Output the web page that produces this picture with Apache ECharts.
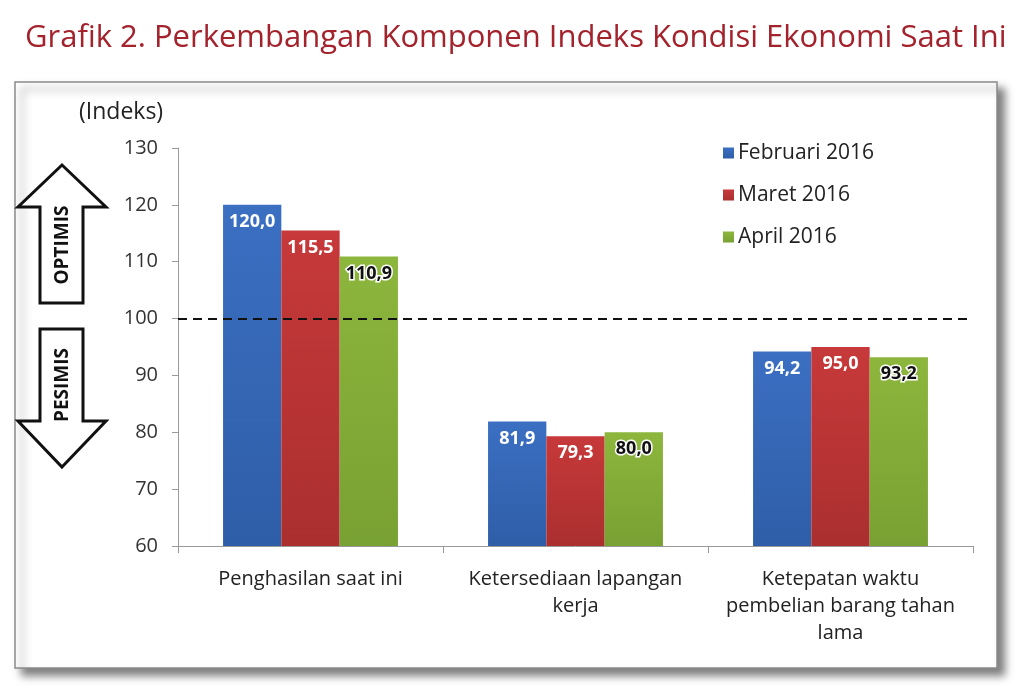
<!DOCTYPE html>
<html>
<head>
<meta charset="utf-8">
<script src="https://cdn.jsdelivr.net/npm/echarts@6/dist/echarts.min.js"></script>
<style>
  html, body { margin: 0; padding: 0; background: #fff; }
  #main { width: 1024px; height: 686px; }
</style>
</head>
<body>
<div id="main"></div>
<script>
// data
const categories = ['Penghasilan saat ini', 'Ketersediaan lapangan\nkerja', 'Ketepatan waktu\npembelian barang tahan\nlama'];
const seriesNames = ['Februari 2016', 'Maret 2016', 'April 2016'];
const feb2016 = [120.0, 81.9, 94.2];
const mar2016 = [115.5, 79.3, 95.0];
const apr2016 = [110.9, 80.0, 93.2];
const yTicks = [60, 70, 80, 90, 100, 110, 120, 130];
const netralLine = 100;

const font = '"Open Sans", sans-serif';
const colors = ['#3b6fc2', '#c7393a', '#8cb63c'];
const darker = ['#2f5ea8', '#ab2f2f', '#78a133'];

function fmt(v) {
  return v.toFixed(1).replace('.', ',');
}

function barSeries(name, data, idx) {
  const light = idx === 2;
  return {
    name: name,
    type: 'bar',
    data: data,
    barGap: '0%',
    barCategoryGap: '34%',
    itemStyle: {
      color: new echarts.graphic.LinearGradient(0, 0, 0, 1, [
        { offset: 0, color: colors[idx] },
        { offset: 1, color: darker[idx] }
      ])
    },
    label: {
      show: true,
      position: 'insideTop',
      distance: 8,
      formatter: p => fmt(p.value),
      fontFamily: font,
      fontSize: 18,
      fontWeight: 'bold',
      color: light ? '#111' : '#fff',
      textBorderColor: light ? '#fff' : 'transparent',
      textBorderWidth: light ? 3 : 0
    }
  };
}

const chart = echarts.init(document.getElementById('main'));

const series = [
  barSeries(seriesNames[0], feb2016, 0),
  barSeries(seriesNames[1], mar2016, 1),
  barSeries(seriesNames[2], apr2016, 2)
];
series[0].markLine = {
  silent: true,
  symbol: 'none',
  label: { show: false },
  lineStyle: { color: '#111', type: [9, 6], width: 2 },
  data: [{ yAxis: netralLine }]
};

// arrows (decoration)
function arrow(up) {
  const p = up
    ? [[62, 165], [106, 207], [83, 207], [83, 303], [40, 303], [40, 207], [18, 207]]
    : [[62, 467], [106, 421], [83, 421], [83, 329], [40, 329], [40, 421], [18, 421]];
  return {
    type: 'polygon',
    shape: { points: p },
    style: { fill: '#fff', stroke: '#111', lineWidth: 3 }
  };
}

const option = {
  backgroundColor: '#fff',
  animation: false,
  title: {
    text: 'Grafik 2. Perkembangan Komponen Indeks Kondisi Ekonomi Saat Ini',
    left: 20,
    top: 18,
    textStyle: { fontFamily: font, fontSize: 31, fontWeight: 'normal', color: '#a3222c' }
  },
  graphic: [
    {
      type: 'rect',
      z: -10,
      shape: { x: 15, y: 82, width: 982, height: 586 },
      style: { fill: '#fff', stroke: '#8a8a8a', lineWidth: 1.5, shadowBlur: 8, shadowOffsetX: 7, shadowOffsetY: 7, shadowColor: 'rgba(0,0,0,0.5)' }
    },
    arrow(true),
    arrow(false),
    {
      type: 'text', x: 63, y: 245, rotation: Math.PI / 2,
      style: { text: 'OPTIMIS', fontFamily: font, fontSize: 19, fontWeight: 'bold', fill: '#111', align: 'center', verticalAlign: 'middle' }
    },
    {
      type: 'text', x: 63, y: 385, rotation: Math.PI / 2,
      style: { text: 'PESIMIS', fontFamily: font, fontSize: 19, fontWeight: 'bold', fill: '#111', align: 'center', verticalAlign: 'middle' }
    },
    {
      type: 'text', x: 79, y: 101,
      style: { text: '(Indeks)', fontFamily: font, fontSize: 23, fill: '#222' }
    }
  ],
  legend: {
    orient: 'vertical',
    left: 718,
    top: 137,
    itemGap: 20,
    itemWidth: 11,
    itemHeight: 11,
    icon: 'rect',
    data: seriesNames,
    textStyle: { fontFamily: font, fontSize: 21, lineHeight: 22, color: '#222', padding: [0, 0, 0, -1] }
  },
  grid: { left: 178, right: 51, top: 148, bottom: 140 },
  xAxis: {
    type: 'category',
    data: categories,
    axisLine: { lineStyle: { color: '#999' } },
    axisTick: { show: true, length: 7, lineStyle: { color: '#999' } },
    axisLabel: { fontFamily: font, fontSize: 20, color: '#222', lineHeight: 27, margin: 20, interval: 0 }
  },
  yAxis: {
    type: 'value',
    min: yTicks[0],
    max: yTicks[yTicks.length - 1],
    interval: 10,
    axisLine: { show: true, lineStyle: { color: '#999' } },
    axisTick: { show: true, length: 6, lineStyle: { color: '#999' } },
    splitLine: { show: false },
    axisLabel: { fontFamily: font, fontSize: 20, color: '#333', margin: 20 }
  },
  series: series
};

chart.setOption(option);
</script>
</body>
</html>
